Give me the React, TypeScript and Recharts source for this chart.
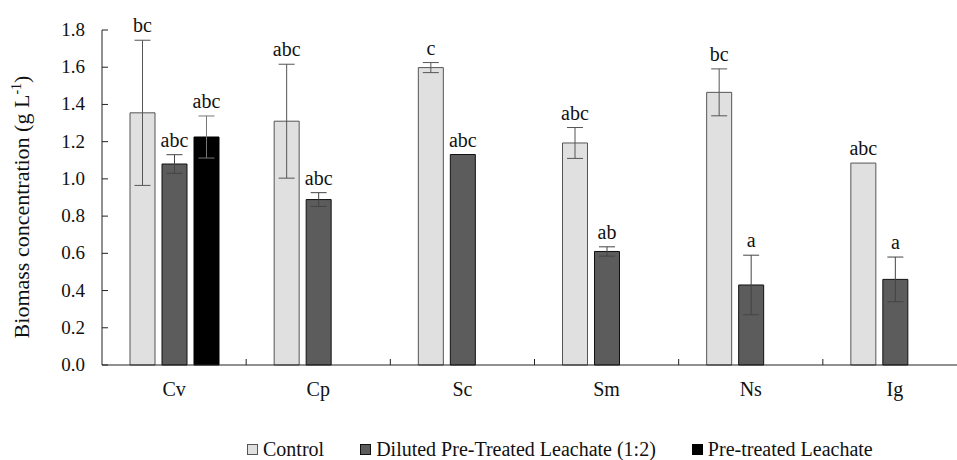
import React from 'react';
import { BarChart, Bar, XAxis, YAxis, ErrorBar, LabelList } from 'recharts';

const categories = ['Cv', 'Cp', 'Sc', 'Sm', 'Ns', 'Ig'];
const control = [1.355, 1.31, 1.598, 1.193, 1.465, 1.085];
const controlErr = [0.39, 0.306, 0.027, 0.083, 0.126, 0];
const controlLetters = ['bc', 'abc', 'c', 'abc', 'bc', 'abc'];
const diluted = [1.08, 0.889, 1.131, 0.61, 0.43, 0.46];
const dilutedErr = [0.05, 0.037, 0, 0.025, 0.16, 0.12];
const dilutedLetters = ['abc', 'abc', 'abc', 'ab', 'a', 'a'];
const pretreated = [1.225, null, null, null, null, null];
const pretreatedErr = [0.113, null, null, null, null, null];
const pretreatedLetters = ['abc', '', '', '', '', ''];
const yTicks = [0, 0.2, 0.4, 0.6, 0.8, 1.0, 1.2, 1.4, 1.6, 1.8];

const data = categories.map((name, i) => ({
  name,
  control: control[i],
  controlErr: controlErr[i],
  controlLetter: controlLetters[i],
  diluted: diluted[i],
  dilutedErr: dilutedErr[i],
  dilutedLetter: dilutedLetters[i],
  pretreated: pretreated[i],
  pretreatedErr: pretreatedErr[i],
  pretreatedLetter: pretreatedLetters[i],
}));

const FONT = '"Liberation Serif", "Times New Roman", serif';

// letter sits above the error bar (or bar top); pixel scale taken from the bar itself
const letterContent = (values: (number | null)[], errs: (number | null)[]) => (props: any) => {
  const { x, y, width, height, value, index } = props;
  if (!value) return null;
  const v = values[index] as number;
  const e = (errs[index] as number) || 0;
  const k = height / v;
  return (
    <text x={x + width / 2} y={y - e * k - 8} textAnchor="middle" fontFamily={FONT} fontSize={20} fill="#111">
      {value}
    </text>
  );
};

const YTick = (props: any) => {
  const { x, y, payload } = props;
  return (
    <g>
      <line x1={x} x2={x + 6} y1={y} y2={y} stroke="#222" />
      <text x={x - 17} y={y + 6} textAnchor="end" fontFamily={FONT} fontSize={19} fill="#111">
        {payload.value.toFixed(1)}
      </text>
    </g>
  );
};

const XTick = (props: any) => {
  const { x, y, payload, width } = props;
  const band = width / categories.length;
  return (
    <g>
      <line x1={x + band / 2} x2={x + band / 2} y1={y} y2={y - 6} stroke="#222" />
      <text x={x} y={y + 31} textAnchor="middle" fontFamily={FONT} fontSize={20} fill="#111">
        {payload.value}
      </text>
    </g>
  );
};

const YLabel = () => (
  <text x={29} y={207} transform="rotate(-90 29 207)" textAnchor="middle" fontFamily={FONT} fontSize={22} fill="#111">
    Biomass concentration (g L
    <tspan dy={-8} fontSize={14}>-1</tspan>
    <tspan dy={8}>)</tspan>
  </text>
);

const legendItems = [
  { label: 'Control', fill: '#e0e0e0', stroke: '#555' },
  { label: 'Diluted Pre-Treated Leachate (1:2)', fill: '#5c5c5c', stroke: '#111' },
  { label: 'Pre-treated Leachate', fill: '#000', stroke: '#000' },
];

export default function App() {
  return (
    <div style={{ position: 'absolute', left: 0, top: 0, width: 957, height: 460, overflow: 'hidden', background: '#fff' }}>
      <BarChart
        width={967}
        height={460}
        data={data}
        margin={{ top: 30, right: 0, left: 0, bottom: 0 }}
        barSize={25}
        barGap={7}
      >
        <XAxis
          dataKey="name"
          tickLine={false}
          tickSize={0}
          tickMargin={0}
          axisLine={{ stroke: '#222' }}
          tick={<XTick />}
          height={95}
          interval={0}
        />
        <YAxis
          domain={[0, 1.8]}
          ticks={yTicks}
          width={102}
          tickLine={false}
          tickSize={0}
          tickMargin={0}
          axisLine={{ stroke: '#222' }}
          tick={<YTick />}
          interval={0}
          label={{ content: () => <YLabel /> }}
        />
        <Bar dataKey="control" fill="#e0e0e0" stroke="#555" strokeWidth={1} isAnimationActive={false}>
          <ErrorBar dataKey="controlErr" width={8} stroke="#555" strokeWidth={1} />
          <LabelList dataKey="controlLetter" content={letterContent(control, controlErr)} />
        </Bar>
        <Bar dataKey="diluted" fill="#5c5c5c" stroke="#111" strokeWidth={1} isAnimationActive={false}>
          <ErrorBar dataKey="dilutedErr" width={8} stroke="#444" strokeWidth={1} />
          <LabelList dataKey="dilutedLetter" content={letterContent(diluted, dilutedErr)} />
        </Bar>
        <Bar dataKey="pretreated" fill="#000" stroke="#000" strokeWidth={1} isAnimationActive={false}>
          <ErrorBar dataKey="pretreatedErr" width={8} stroke="#777" strokeWidth={1} />
          <LabelList dataKey="pretreatedLetter" content={letterContent(pretreated, pretreatedErr)} />
        </Bar>
      </BarChart>
      <div
        style={{
          position: 'absolute',
          top: 439,
          left: 247,
          display: 'flex',
          gap: 36,
          fontFamily: FONT,
          fontSize: 20,
          lineHeight: '20px',
          color: '#111',
          whiteSpace: 'nowrap',
        }}
      >
        {legendItems.map((it) => (
          <div key={it.label} style={{ display: 'flex', alignItems: 'center', gap: 5 }}>
            <div style={{ width: 9, height: 9, background: it.fill, border: `1px solid ${it.stroke}` }} />
            <span>{it.label}</span>
          </div>
        ))}
      </div>
    </div>
  );
}
